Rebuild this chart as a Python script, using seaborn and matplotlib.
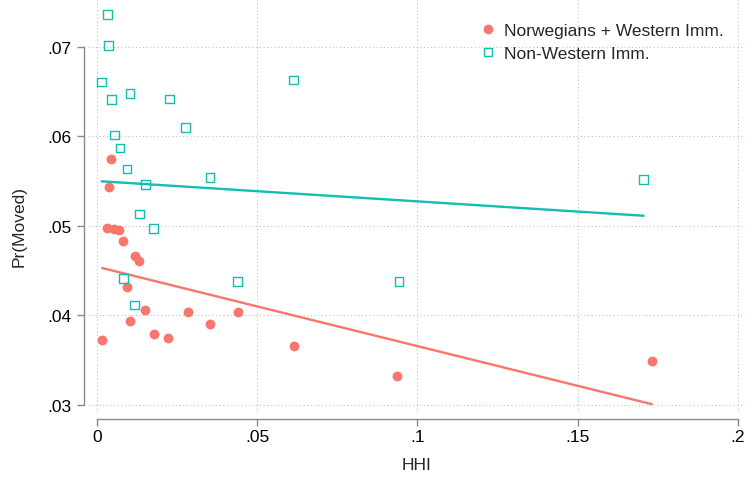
import matplotlib
matplotlib.use("Agg")
import matplotlib.pyplot as plt
from matplotlib.lines import Line2D
import numpy as np
import pandas as pd
import seaborn as sns

# Binned means: Norwegians + Western immigrants
nw_hhi = [0.0015, 0.0036, 0.0043, 0.0031, 0.0052, 0.0069, 0.0081, 0.0118, 0.0131, 0.0093,
          0.0101, 0.0149, 0.0176, 0.0221, 0.0284, 0.0351, 0.0440, 0.0614, 0.0936, 0.1732]
nw_moved = [0.03722, 0.05436, 0.05742, 0.04972, 0.04964, 0.04956, 0.04830, 0.04659, 0.04603, 0.04320,
            0.03937, 0.04060, 0.03796, 0.03744, 0.04041, 0.03904, 0.04034, 0.03662, 0.03320, 0.03494]

# Binned means: non-Western immigrants
nonw_hhi = [0.0031, 0.0034, 0.0014, 0.0044, 0.0102, 0.0225, 0.0275, 0.0053, 0.0071, 0.0093,
            0.0150, 0.0131, 0.0175, 0.0081, 0.0117, 0.0352, 0.0437, 0.0612, 0.0942, 0.1706]
nonw_moved = [0.07355, 0.07009, 0.06604, 0.06411, 0.06474, 0.06414, 0.06094, 0.06013, 0.05868, 0.05633,
              0.05458, 0.05131, 0.04972, 0.04414, 0.04116, 0.05541, 0.04380, 0.06626, 0.04380, 0.05518]

# Linear fits (intercept, slope)
nw_fit = [0.04542, -0.08851]
nonw_fit = [0.05499, -0.02271]

series_labels = ["Norwegians + Western Imm.", "Non-Western Imm."]
x_ticks = [0, 0.05, 0.10, 0.15, 0.20]
x_ticklabels = ["0", ".05", ".1", ".15", ".2"]
y_ticks = [0.03, 0.04, 0.05, 0.06, 0.07]
y_ticklabels = [".03", ".04", ".05", ".06", ".07"]

RED = "#F8766D"
TEAL = "#10BFB2"
AXIS_GREY = "#8a8a8a"

sns.set_style("white")
plt.rcParams["font.family"] = ["Liberation Sans", "DejaVu Sans"]
FS = 12.5

fig = plt.figure(figsize=(7.46, 4.81), dpi=100)
ax = fig.add_axes([88 / 746, (481 - 413) / 481, (745 - 88) / 746, 413 / 481])

df_nw = pd.DataFrame({"HHI": nw_hhi, "Moved": nw_moved})
df_nonw = pd.DataFrame({"HHI": nonw_hhi, "Moved": nonw_moved})

# Fitted lines over each group's observed HHI range
def fit_frame(x, coef):
    xs = np.array([min(x), max(x)])
    return pd.DataFrame({"HHI": xs, "Moved": coef[0] + coef[1] * xs})

sns.lineplot(data=fit_frame(nw_hhi, nw_fit), x="HHI", y="Moved", color=RED, lw=1.7, ax=ax, zorder=3)
sns.lineplot(data=fit_frame(nonw_hhi, nonw_fit), x="HHI", y="Moved", color=TEAL, lw=1.7, ax=ax, zorder=3)

sns.scatterplot(data=df_nw, x="HHI", y="Moved", color=RED, marker="o", s=50,
                linewidth=0, ax=ax, zorder=4)
sns.scatterplot(data=df_nonw, x="HHI", y="Moved", marker="s", s=40,
                facecolor="none", edgecolor=TEAL, linewidth=1.0, ax=ax, zorder=4)

ax.set_xlim(-0.0029, 0.20228)
ax.set_ylim(0.02922, 0.0753)

ax.set_xticks(x_ticks)
ax.set_xticklabels(x_ticklabels)
ax.set_yticks(y_ticks)
ax.set_yticklabels(y_ticklabels)

ax.grid(True, which="major", color="#bdbdbd", linestyle=(0, (1, 2.5)), linewidth=0.75)
ax.set_axisbelow(True)

for side in ("top", "right"):
    ax.spines[side].set_visible(False)
ax.spines["left"].set_position(("outward", 3))
ax.spines["bottom"].set_position(("outward", 5))
ax.spines["left"].set_bounds(y_ticks[0], y_ticks[-1])
ax.spines["bottom"].set_bounds(x_ticks[0], x_ticks[-1])
for side in ("left", "bottom"):
    ax.spines[side].set_color(AXIS_GREY)
    ax.spines[side].set_linewidth(1.0)

ax.tick_params(axis="both", which="major", length=5, width=1.0, color=AXIS_GREY,
               labelsize=FS, labelcolor="black", direction="out")
ax.tick_params(axis="y", pad=4, left=True)
ax.tick_params(axis="x", pad=2.5, bottom=True)

ax.set_xlabel("HHI", fontsize=FS)
ax.set_ylabel("Pr(Moved)", fontsize=FS)
ax.xaxis.set_label_coords((417 - 88) / 657, (413 - 458) / 413)
ax.yaxis.set_label_coords((27 - 88) / 657, (413 - 226.5) / 413)

handles = [
    Line2D([], [], marker="o", color=RED, linestyle="none", markersize=7.0, markeredgewidth=0),
    Line2D([], [], marker="s", markerfacecolor="none", markeredgecolor=TEAL, linestyle="none",
           markersize=6.2, markeredgewidth=1.0),
]
fig.legend(handles, series_labels, loc="upper left", bbox_to_anchor=(479 / 746, (481 - 24) / 481),
           frameon=False, fontsize=FS, handlelength=1.0, handletextpad=0.45,
           labelspacing=0.42, borderpad=0, borderaxespad=0)

fig.savefig("out.png", dpi=100)
